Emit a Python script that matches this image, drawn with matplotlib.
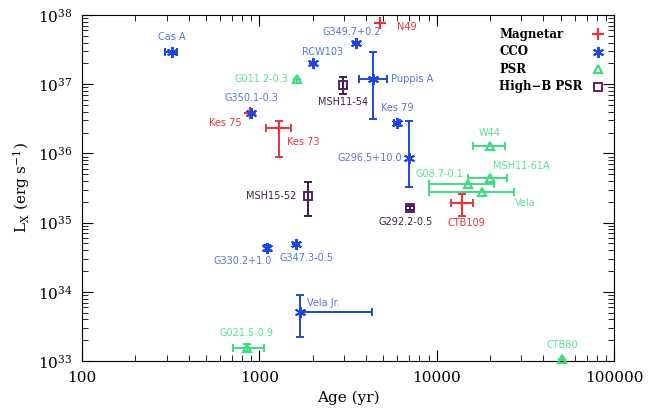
import numpy as np
import matplotlib.pyplot as plt

plt.rcParams['font.family'] = 'DejaVu Serif'
plt.rcParams['mathtext.fontset'] = 'dejavuserif'

# ---- data: age (yr), age range, Lx (erg/s), Lx range ----
mag_names = ['N49', 'Kes 75', 'Kes 73', 'CTB109']
mag_age = [4800, 890, 1290, 13900]
mag_age_lo = [4800, 890, 1090, 12050]
mag_age_hi = [4800, 890, 1510, 16000]
mag_lx = [7.6e37, 3.8e36, 2.3e36, 1.9e35]
mag_lx_lo = [7.6e37, 3.8e36, 0.89e36, 1.25e35]
mag_lx_hi = [7.6e37, 3.8e36, 2.94e36, 2.6e35]

cco_names = ['Cas A', 'G349.7+0.2', 'RCW103', 'Puppis A', 'G350.1-0.3', 'Kes 79',
             'G296.5+10.0', 'G330.2+1.0', 'G347.3-0.5', 'Vela Jr.']
cco_age = [320, 3500, 2000, 4400, 900, 6000, 7000, 1100, 1600, 1700]
cco_age_lo = [295, 3500, 2000, 3650, 900, 5750, 7000, 1100, 1600, 1700]
cco_age_hi = [345, 3500, 2000, 5250, 900, 6250, 7000, 1100, 1600, 4300]
cco_lx = [2.9e37, 3.9e37, 2.0e37, 1.2e37, 3.8e36, 2.75e36, 8.6e35, 4.3e34, 4.9e34, 5.1e33]
cco_lx_lo = [2.9e37, 3.9e37, 2.0e37, 3.1e36, 3.8e36, 2.75e36, 3.3e35, 3.9e34, 4.9e34, 2.2e33]
cco_lx_hi = [2.9e37, 3.9e37, 2.0e37, 2.9e37, 3.8e36, 2.75e36, 2.9e36, 4.8e34, 4.9e34, 9.0e33]

psr_names = ['G011.2-0.3', 'W44', 'MSH11-61A', 'G08.7-0.1', 'Vela', 'G021.5-0.9', 'CTB80']
psr_age = [1630, 20000, 20000, 15000, 18000, 850, 51000]
psr_age_lo = [1630, 16000, 15000, 9050, 9050, 710, 51000]
psr_age_hi = [1630, 24300, 25000, 21100, 27400, 1065, 51000]
psr_lx = [1.2e37, 1.28e36, 4.4e35, 3.6e35, 2.8e35, 1.55e33, 1.08e33]
psr_lx_lo = [1.2e37, 1.28e36, 4.4e35, 3.6e35, 2.8e35, 1.4e33, 1.08e33]
psr_lx_hi = [1.2e37, 1.28e36, 4.4e35, 3.6e35, 2.8e35, 1.75e33, 1.08e33]

hb_names = ['MSH11-54', 'MSH15-52', 'G292.2-0.5']
hb_age = [2950, 1880, 7100]
hb_age_lo = [2950, 1880, 7100]
hb_age_hi = [2950, 1880, 7100]
hb_lx = [9.7e36, 2.4e35, 1.63e35]
hb_lx_lo = [7.2e36, 1.25e35, 1.5e35]
hb_lx_hi = [1.27e37, 3.9e35, 1.75e35]

# label placement: offset in points from the marker, horizontal alignment
label_pos = {
    'N49': (12, -3, 'left'), 'Kes 75': (-6, -7, 'right'), 'Kes 73': (6, -10, 'left'),
    'CTB109': (3, -14, 'center'),
    'Cas A': (0, 11, 'center'), 'G349.7+0.2': (-3, 8, 'center'), 'RCW103': (7, 8, 'center'),
    'Puppis A': (13, 0, 'left'), 'G350.1-0.3': (0, 11, 'center'), 'Kes 79': (0, 11, 'center'),
    'G296.5+10.0': (-5, 0, 'right'), 'G330.2+1.0': (-17, -9.5, 'center'),
    'G347.3-0.5': (8, -10, 'center'), 'Vela Jr.': (5, 6.5, 'left'),
    'G011.2-0.3': (-6.5, 0, 'right'), 'W44': (0, 9.5, 'center'), 'MSH11-61A': (2, 8.5, 'left'),
    'G08.7-0.1': (-3.5, 7, 'right'), 'Vela': (24, -8, 'left'), 'G021.5-0.9': (0, 11, 'center'),
    'CTB80': (0, 10, 'center'),
    'MSH11-54': (0, -12, 'center'), 'MSH15-52': (-8, 0, 'right'), 'G292.2-0.5': (-3.5, -10, 'center'),
}

red = '#e8333c'
blue = '#1f45e0'
blue_txt = '#5577d6'
green = '#3fdc84'
green_txt = '#5fe093'
purple = '#5a1f6e'
purple_txt = '#3b2440'

groups = [
    (mag_names, mag_age, mag_age_lo, mag_age_hi, mag_lx, mag_lx_lo, mag_lx_hi,
     dict(marker='+', ms=9, mew=1.6, color=red, mfc='none'), red, red),
    (cco_names, cco_age, cco_age_lo, cco_age_hi, cco_lx, cco_lx_lo, cco_lx_hi,
     dict(marker=(6, 2, 0), ms=8, mew=1.4, color=blue, mfc='none'), blue, blue_txt),
    (psr_names, psr_age, psr_age_lo, psr_age_hi, psr_lx, psr_lx_lo, psr_lx_hi,
     dict(marker='^', ms=6, mew=1.6, color=green, mfc='none'), green, green_txt),
    (hb_names, hb_age, hb_age_lo, hb_age_hi, hb_lx, hb_lx_lo, hb_lx_hi,
     dict(marker='s', ms=6, mew=1.4, color=purple, mfc='none'), '#3a1f48', purple_txt),
]

fig = plt.figure(figsize=(6.48, 4.12), dpi=100)
ax = fig.add_axes([0.1265, 0.1238, 0.821, 0.8398])

for names, age, alo, ahi, lx, llo, lhi, mstyle, ecol, tcol in groups:
    age = np.array(age, float)
    lx = np.array(lx, float)
    xerr = [age - np.array(alo), np.array(ahi) - age]
    yerr = [lx - np.array(llo), np.array(lhi) - lx]
    ax.errorbar(age, lx, xerr=xerr, yerr=yerr, fmt='none', ecolor=ecol,
                elinewidth=1.4, capsize=3, capthick=1.4, zorder=2)
    ax.plot(age, lx, ls='none', zorder=3, clip_on=False, **mstyle)
    for n, a, l in zip(names, age, lx):
        dx, dy, ha = label_pos[n]
        ax.annotate(n, (a, l), xytext=(dx, dy), textcoords='offset points',
                    ha=ha, va='center', fontsize=7, color=tcol,
                    family='DejaVu Sans', zorder=4)

ax.set_xscale('log')
ax.set_yscale('log')
ax.set_xlim(100, 100000)
ax.set_ylim(1e33, 1e38)
ax.set_xticks([100, 1000, 10000, 100000])
ax.set_xticklabels(['100', '1000', '10000', '100000'])
ax.tick_params(which='both', direction='in', top=True, right=True, labelsize=11, pad=7)
ax.tick_params(which='major', length=8, width=0.8)
ax.tick_params(which='minor', length=4, width=0.6)
for s in ax.spines.values():
    s.set_linewidth(0.8)

ax.set_xlabel('Age (yr)', fontsize=11, labelpad=4)
ax.set_ylabel(r'L$_{\rm X}$ (erg s$^{-1}$)', fontsize=11, labelpad=4)

# legend: names left, symbols right
leg_names = ['Magnetar', 'CCO', 'PSR', 'High\u2212B PSR']
leg_styles = [groups[i][7] for i in range(4)]
for i, (name, st) in enumerate(zip(leg_names, leg_styles)):
    yy = 0.945 - i * 0.051
    ax.text(0.784, yy, name, transform=ax.transAxes, va='center', ha='left',
            fontsize=8.5, fontweight='bold')
    ax.plot([0.970], [yy], transform=ax.transAxes, ls='none', **st)

fig.savefig('out.png', dpi=100)
